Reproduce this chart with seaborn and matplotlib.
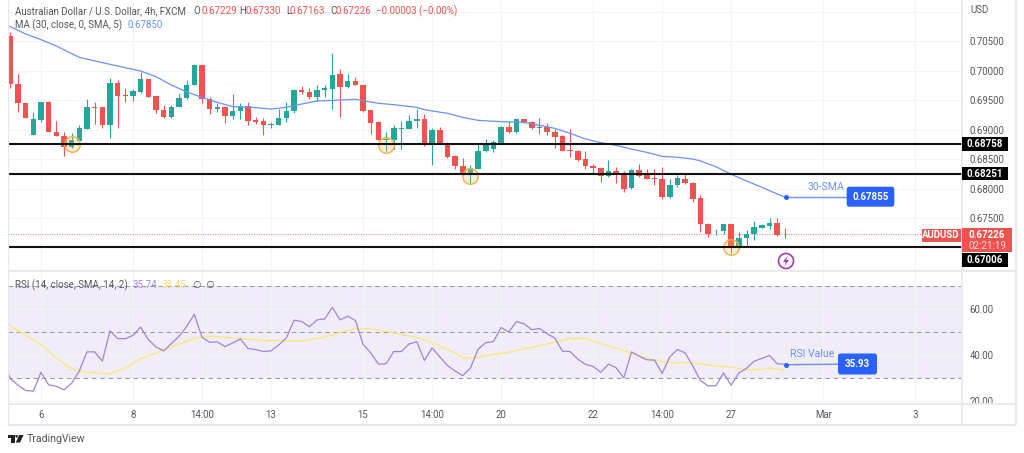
import matplotlib
matplotlib.use("Agg")
import matplotlib.pyplot as plt
import seaborn as sns
from matplotlib.patches import Circle, FancyBboxPatch, Polygon, Rectangle

# AUD/USD 4h candles
opens = [.70585,.69766,.69455,.68907,.69167,.69472,.68952,.68895,.68709,.68811,
         .69008,.69381,.69376,.69082,.69794,.69579,.69568,.69641,.69850,.69562,
         .69330,.69212,.69376,.69528,.69754,.70093,.69523,.69342,.69376,.69229,
         .69319,.69398,.69155,.69138,.69071,.69082,.69195,.69319,.69664,.69641,
         .69545,.69675,.69692,.69935,.69720,.69822,.69760,.69325,.69121,.68822,
         .68822,.69014,.69014,.69138,.69172,.68766,.68986,.68777,.68545,.68381,
         .68229,.68336,.68636,.68664,.68760,.69048,.68952,.69172,.69133,.69020,
         .69048,.68958,.68884,.68652,.68641,.68494,.68387,.68342,.68206,.68297,
         .68229,.68003,.68313,.68223,.68172,.68155,.67850,.68053,.68161,.68088,
         .67834,.67404,.67224,.67286,.67393,.66992,.67156,.67224,.67336,.67370,
         .67421,.67229]
highs = [.70658,.69941,.69455,.69291,.69472,.69483,.69150,.68963,.68935,.69076,
         .69511,.69472,.69387,.69867,.69839,.69698,.69692,.69980,.69850,.69562,
         .69415,.69415,.69602,.69839,.70110,.70099,.69545,.69443,.69387,.69602,
         .69443,.69472,.69218,.69189,.69133,.69342,.69472,.69681,.69737,.69698,
         .69754,.69754,.70291,.70020,.69935,.69884,.69760,.69325,.69144,.68952,
         .69076,.69138,.69246,.69347,.69263,.69020,.69037,.68788,.68562,.68511,
         .68398,.68777,.68833,.68822,.69059,.69144,.69172,.69184,.69144,.69189,
         .69104,.69003,.68907,.69003,.68652,.68641,.68415,.68359,.68483,.68370,
         .68302,.68325,.68415,.68325,.68325,.68359,.68155,.68229,.68241,.68116,
         .67885,.67421,.67320,.67404,.67393,.67269,.67297,.67455,.67399,.67500,
         .67495,.67330]
lows = [.69698,.69302,.69195,.68907,.69133,.68952,.68890,.68556,.68681,.68794,
        .69008,.69093,.69020,.68850,.69031,.69472,.69489,.69624,.69545,.69274,
        .69189,.69201,.69376,.69523,.69749,.69443,.69263,.69302,.69116,.69172,
        .69172,.69076,.69093,.68907,.69025,.69071,.69122,.69285,.69602,.69511,
        .69483,.69556,.69342,.69217,.69709,.69749,.69291,.68924,.68822,.68641,
        .68664,.68669,.69003,.69031,.68720,.68404,.68754,.68511,.68325,.68229,
        .68099,.68336,.68624,.68624,.68760,.68946,.68946,.69104,.69008,.68929,
        .68907,.68692,.68636,.68528,.68472,.68325,.68268,.68104,.68200,.68099,
        .67946,.67997,.68200,.68155,.68059,.67816,.67845,.68031,.68077,.67777,
        .67269,.67184,.67212,.67229,.66902,.66969,.67003,.67127,.67325,.67308,
        .67195,.67163]
closes = [.69766,.69455,.69195,.69172,.69472,.68952,.68890,.68709,.68816,.69020,
          .69376,.69370,.69082,.69794,.69573,.69568,.69647,.69850,.69556,.69330,
          .69212,.69376,.69528,.69754,.70099,.69523,.69342,.69376,.69229,.69319,
          .69398,.69150,.69127,.69071,.69093,.69195,.69319,.69664,.69636,.69545,
          .69675,.69703,.69929,.69720,.69822,.69749,.69314,.69116,.68822,.68845,
          .69020,.69025,.69144,.69172,.68754,.68986,.68766,.68540,.68381,.68229,
          .68347,.68641,.68760,.68782,.69048,.68952,.69172,.69127,.69020,.69048,
          .68952,.68878,.68641,.68641,.68483,.68376,.68342,.68206,.68302,.68223,
          .67997,.68313,.68217,.68167,.68155,.67850,.68059,.68172,.68088,.67817,
          .67404,.67224,.67229,.67393,.67003,.67167,.67235,.67342,.67382,.67421,
          .67207,.67226]

ma_idx = [-0.3, 0, 2, 4, 6, 9, 12, 15, 17, 19, 21, 23, 25, 27, 29, 32, 34, 36, 38, 40, 43,
          45, 46, 48, 50, 53, 54, 57, 59, 61, 64, 67, 69, 71, 73, 75, 77, 79, 81, 83,
          85, 87, 89, 90, 92, 94, 96, 98, 100, 101]
ma_vals = [.70755,.70743,.70619,.70523,.70415,.70223,.70133,.70048,.69991,.69895,.69754,
           .69636,.69545,.69460,.69387,.69370,.69347,.69376,.69432,.69483,.69500,
           .69511,.69489,.69444,.69421,.69376,.69336,.69274,.69206,.69155,.69133,
           .69121,.69071,.69020,.68935,.68839,.68777,.68732,.68669,.68613,.68545,
           .68530,.68500,.68467,.68370,.68241,.68128,.68020,.67907,.67855]

rsi_idx = [-0.3] + list(range(102))
rsi_vals = [32.50,
            29.73,26.86,24.57,24.28,32.46,27.01,26.43,24.85,27.72,33.03,
            41.35,41.35,37.34,50.53,47.09,47.09,48.53,52.11,46.66,43.50,
            41.78,44.94,48.10,52.40,57.71,47.67,45.51,45.66,43.65,45.23,
            46.95,42.79,42.36,41.50,41.78,44.37,47.38,55.13,54.55,52.26,
            55.27,55.70,60.72,55.27,56.85,54.98,44.65,40.92,36.04,36.19,
            41.50,41.50,44.80,45.80,37.62,43.07,39.20,35.47,33.03,31.02,
            34.32,42.50,45.37,45.80,51.97,49.96,54.55,53.55,50.97,51.54,
            49.24,47.38,41.64,41.50,38.20,35.90,35.04,32.46,36.04,34.47,
            30.02,41.35,39.49,37.91,37.77,32.03,39.20,42.36,40.92,35.18,
            28.87,26.58,26.58,32.17,26.86,32.17,34.18,37.34,38.48,39.77,
            36.19,35.93]

rsi_ma_idx = [-0.3, 0, 4, 6, 8, 10, 13, 15, 17, 21, 24, 26, 30, 33, 37, 38, 41, 43, 45, 47, 49,
              51, 53, 55, 57, 59, 60, 63, 65, 67, 71, 73, 75, 77, 79, 81, 83, 85, 87, 88,
              90, 92, 94, 96, 98, 99, 101]
rsi_ma_vals = [53.40,52.69,44.51,38.63,34.04,32.46,31.74,34.47,38.34,43.50,47.24,
               48.10,47.24,46.23,46.09,46.09,47.81,49.82,51.40,51.40,50.39,
               48.81,47.67,45.51,42.50,38.91,38.48,40.20,41.21,42.64,45.51,
               47.24,47.24,44.94,43.07,40.49,38.63,37.05,36.47,36.76,36.19,
               35.18,34.75,33.60,33.75,34.32,33.45]

tick_idx = [4, 16, 25, 34, 46, 55, 64, 76, 85, 94, 106, 118]
tick_labels = ["6", "8", "14:00", "13", "15", "14:00", "20", "22", "14:00", "27", "Mar", "3"]
price_ticks = [.705, .70, .695, .69, .685, .68, .675]
level_prices = [.68758, .68251, .67006]
marked_idx = [8, 49, 60, 94]
marked_prices = [.68750, .68732, .68217, .67006]
last_price = .67226

GREEN, RED = "#26a69a", "#ef5350"
TEXT = "#55575d"
GRID = "#f3f4f8"
BORDER = "#e6e8ef"
MA_BLUE = "#6c91f5"
LABEL_BLUE = "#2962ff"
PURPLE = "#9d84d8"
YELLOW = "#fbe67a"
W, H = 1024, 453

sns.set_theme(style="white")
plt.rcParams["font.family"] = ["Roboto", "DejaVu Sans"]
plt.rcParams["axes.unicode_minus"] = False


def px_axes(fig, x0, y0, x1, y1, **kw):
    return fig.add_axes([x0 / W, 1 - y1 / H, (x1 - x0) / W, (y1 - y0) / H], **kw)


fig = plt.figure(figsize=(W / 100, H / 100), dpi=100, facecolor="white")
ax = px_axes(fig, 8, 1, 962, 270)
ax_rsi = px_axes(fig, 8, 271, 962, 403, sharex=ax)
idx = list(range(len(opens)))

# price panel
for a in (ax, ax_rsi):
    a.set_facecolor("white")
    for s in a.spines.values():
        s.set_visible(False)
    a.set_axisbelow(True)
    a.grid(True, color=GRID, lw=0.8)

colors = [GREEN if c >= o else RED for o, c in zip(opens, closes)]
ax.vlines(idx, lows, highs, colors=colors, lw=0.8, zorder=2)
ax.bar(idx, [abs(c - o) for o, c in zip(opens, closes)], bottom=[min(o, c) for o, c in zip(opens, closes)],
       width=0.72, color=colors, linewidth=0, zorder=3)
ax.scatter(marked_idx, marked_prices, s=125, facecolor="#f9c25c40", edgecolor="#f5b04c", lw=1.0, zorder=4)
sns.lineplot(x=ma_idx, y=ma_vals, ax=ax, color=MA_BLUE, lw=0.9, zorder=5)
for p in level_prices:
    ax.axhline(p, color="#111111", lw=1.5, zorder=6)
ax.axhline(last_price, color=RED, lw=0.7, ls=(0, (1, 1.5)), alpha=0.8, zorder=1)
ax.set_xlim(-0.3, 124.1)
ax.set_ylim(.66619, .71178)
ax.yaxis.tick_right()
ax.set_yticks(price_ticks + [.71])
ax.set_yticklabels([f"{p:.5f}" for p in price_ticks] + [""], fontsize=6.9, color=TEXT)
ax.tick_params(axis="y", length=0, pad=5.5)
ax.tick_params(axis="x", length=0, labelbottom=False)

# rsi panel
ax_rsi.axhspan(30, 70, color="#7e57c2", alpha=0.1, lw=0, zorder=0)
for lvl in (70, 50, 30):
    ax_rsi.axhline(lvl, color="#9a9aa2", lw=0.75, ls=(0, (4.5, 3.5)), zorder=1)
sns.lineplot(x=rsi_ma_idx, y=rsi_ma_vals, ax=ax_rsi, color=YELLOW, lw=0.9, zorder=3)
sns.lineplot(x=rsi_idx, y=rsi_vals, ax=ax_rsi, color=PURPLE, lw=0.9, zorder=4)
ax_rsi.set_ylim(19.13, 76.5)
ax_rsi.yaxis.tick_right()
ax_rsi.set_yticks([60, 40, 20])
ax_rsi.set_yticklabels(["60.00", "40.00", "20.00"], fontsize=6.9, color=TEXT)
ax_rsi.tick_params(axis="y", length=0, pad=5.5)
ax_rsi.set_xticks(tick_idx)
ax_rsi.set_xticklabels(tick_labels, fontsize=6.9, color=TEXT)
ax_rsi.tick_params(axis="x", length=0, pad=5)

# overlay in pixel coordinates for labels and frame
ov = fig.add_axes([0, 0, 1, 1], facecolor="none")
ov.set_xlim(0, W)
ov.set_ylim(H, 0)
ov.axis("off")
ov.add_patch(Rectangle((963, 404), 52, 21, color="white", lw=0))
for x0, y0, x1, y1, w in [(8, 0, 8, 425, 0.9), (962, 0, 962, 425, 1.2), (1016, 0, 1016, 425, 1.5),
                          (8, 270.5, 1016, 270.5, 1.3), (8, 403.5, 1016, 403.5, 1.3),
                          (8, 425, 1016, 425, 1.5)]:
    ov.plot([x0, x1], [y0, y1], color=BORDER, lw=w, solid_capstyle="butt")


def label(x, y, s, color=TEXT, size=7.05, ha="left", **kw):
    ov.text(x, y, s, color=color, fontsize=size, ha=ha, va="center", **kw)


def box(x0, y0, x1, y1, color, rounded=False):
    if rounded:
        ov.add_patch(FancyBboxPatch((x0 + 2, y0 + 2), x1 - x0 - 4, y1 - y0 - 4, boxstyle="round,pad=2,rounding_size=2.5",
                                    fc=color, ec="none", zorder=7))
    else:
        ov.add_patch(Rectangle((x0, y0), x1 - x0, y1 - y0, fc=color, ec="none", zorder=7))


label(15, 11, "Australian Dollar / U.S. Dollar, 4h, FXCM")
for lx, vx, ch, val in [(193, 201, "O", "0.67229"), (239, 246, "H", "0.67330"), (286, 290, "L", "0.67163"), (330, 336, "C", "0.67226")]:
    label(lx, 11, ch)
    label(vx, 11, val, color=RED)
label(376, 11, "\u22120.00003 (\u22120.00%)", color=RED)
label(15, 25, "MA (30, close, 0, SMA, 5)")
label(128, 25, "0.67850", color=MA_BLUE)
label(15, 285, "RSI (14, close, SMA, 14, 2)")
label(133, 285, "35.74", color=PURPLE)
label(162, 285, "33.45", color="#f7dc6f")
label(193, 285, "\u2205  \u2205")
label(970, 10, "USD", size=6.9)

for y, s in [(144, "0.68758"), (173.7, "0.68251"), (260, "0.67006")]:
    box(962, y - 6.7, 1008, y + 6.7, "#000000")
    ov.text(985, y, s, color="white", fontsize=7, fontweight="bold", ha="center", va="center", zorder=8)
box(962, 228.3, 1012, 252.3, RED)
box(921.7, 229, 961, 241.5, RED)
ov.text(987, 235, "0.67226", color="white", fontsize=7, fontweight="bold", ha="center", va="center", zorder=8)
ov.text(987, 246, "02:21:19", color="#ffdcdb", fontsize=7, ha="center", va="center", zorder=8)
ov.text(941, 235, "AUDUSD", color="white", fontsize=6.9, fontweight="bold", ha="center", va="center", zorder=8)

# drawn callouts
ov.plot([786, 847], [197, 197], color=MA_BLUE, lw=1.0, zorder=6)
ov.plot([786], [197], "o", color=LABEL_BLUE, ms=2.6, zorder=6)
box(846.7, 186.7, 894.3, 206.7, LABEL_BLUE, rounded=True)
ov.text(870.5, 197, "0.67855", color="white", fontsize=7, fontweight="bold", ha="center", va="center", zorder=8)
label(808, 187.5, "30-SMA", color=MA_BLUE, size=7.6)
ov.plot([786, 838], [364.7, 364.2], color=MA_BLUE, lw=1.0, zorder=6)
ov.plot([786], [364.7], "o", color=LABEL_BLUE, ms=2.6, zorder=6)
box(838, 353.5, 877, 374.5, LABEL_BLUE, rounded=True)
ov.text(857.5, 364, "35.93", color="white", fontsize=7, fontweight="bold", ha="center", va="center", zorder=8)
label(790, 354, "RSI Value", color=MA_BLUE, size=7.6)

# earnings style marker below the candles
ov.add_patch(Circle((786, 261), 7.5, fc="white", ec="#a23bb5", lw=1.2, zorder=6))
ov.add_patch(Polygon([(787.5, 256), (783, 262), (785.7, 262), (784.5, 266), (789, 260), (786.3, 260)], fc="#a23bb5", ec="none", zorder=7))

# logo
logo = "#1f2126"
ov.add_patch(Polygon([(8, 435), (14.5, 435), (14.5, 442.5), (11, 442.5), (11, 437.7), (8, 437.7)], fc=logo, ec="none"))
ov.add_patch(Circle((16.6, 436.3), 1.3, fc=logo, ec="none"))
ov.add_patch(Polygon([(19.2, 435), (23.6, 435), (20, 442.5), (15.8, 442.5)], fc=logo, ec="none"))
label(27, 439, "TradingView", color="#50535e", size=7.6)

fig.savefig("out.png", dpi=100, facecolor="white")
